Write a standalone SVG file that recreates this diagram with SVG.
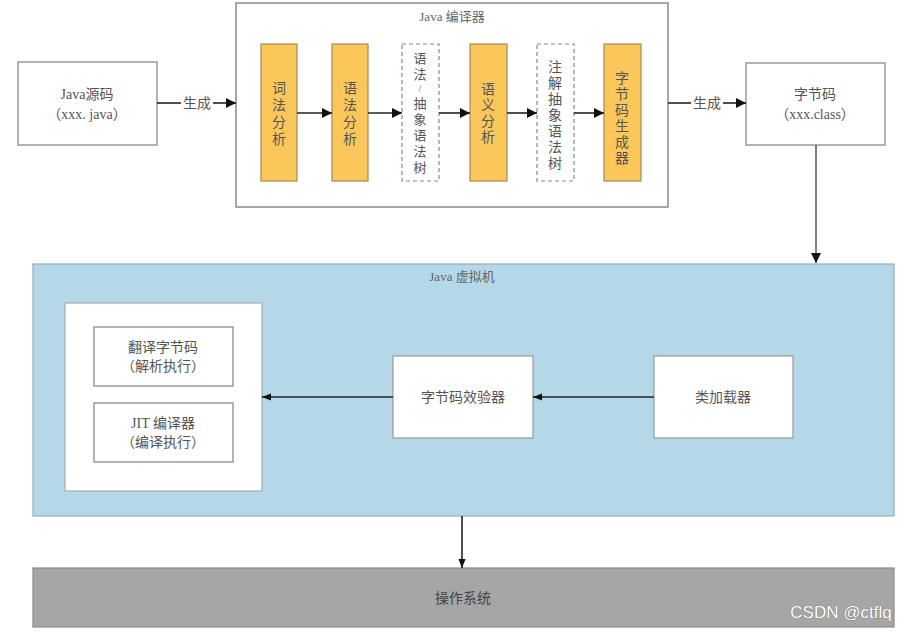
<svg xmlns="http://www.w3.org/2000/svg" width="912" height="632" viewBox="0 0 912 632">
<defs>
<marker id="ah" viewBox="0 0 10 10" refX="10" refY="5" markerWidth="10" markerHeight="10" markerUnits="userSpaceOnUse" orient="auto">
<path d="M0,0 L10,5 L0,10 Z" fill="#111"/>
</marker>
<marker id="ahs" viewBox="0 0 10 10" refX="10" refY="5" markerWidth="9" markerHeight="9" markerUnits="userSpaceOnUse" orient="auto">
<path d="M0,1 L10,5 L0,9 Z" fill="#111"/>
</marker>
</defs>
<style>
text{font-family:"Liberation Serif","Noto Sans CJK SC",serif;fill:#555;font-size:14px;text-anchor:middle;}
.box{fill:#fff;stroke:#9a9a9a;stroke-width:1.5;}
.org{fill:#fbc75a;stroke:#a58a52;stroke-width:1.2;}
.dash{fill:#fff;stroke:#888;stroke-width:1.2;stroke-dasharray:4 3;}
.ln{stroke:#222;stroke-width:1.6;fill:none;}
.lng{stroke:#555;stroke-width:1.5;fill:none;}
.title{font-size:13px;fill:#666;}
.sm{font-size:13px;}
</style>
<rect width="912" height="632" fill="#fff"/>

<g id="java-compiler">
<rect x="236" y="3" width="432" height="204" fill="#fff" stroke="#8a8a8a" stroke-width="1.5"/>
<text class="title" x="452" y="21">Java 编译器</text>
</g>

<g id="java-source">
<rect class="box" x="18" y="62" width="139" height="83"/>
<text x="87" y="99">Java源码</text>
<text x="87" y="119">（xxx. java）</text>
</g>

<g id="lexical">
<rect class="org" x="261" y="44" width="36" height="137"/>
<text x="279"><tspan x="279" y="93">词</tspan><tspan x="279" y="110">法</tspan><tspan x="279" y="127">分</tspan><tspan x="279" y="144">析</tspan></text>
</g>
<g id="syntax">
<rect class="org" x="332" y="44" width="36" height="137"/>
<text x="350"><tspan x="350" y="93">语</tspan><tspan x="350" y="110">法</tspan><tspan x="350" y="127">分</tspan><tspan x="350" y="144">析</tspan></text>
</g>
<g id="ast">
<rect class="dash" x="402" y="44" width="37" height="137"/>
<text class="sm" x="420"><tspan x="420" y="63">语</tspan><tspan x="420" y="79">法</tspan><tspan x="420" y="92" style="font-size:10px">/</tspan><tspan x="420" y="108">抽</tspan><tspan x="420" y="124">象</tspan><tspan x="420" y="140">语</tspan><tspan x="420" y="156">法</tspan><tspan x="420" y="172">树</tspan></text>
</g>
<g id="semantic">
<rect class="org" x="470" y="44" width="37" height="137"/>
<text x="488"><tspan x="488" y="94">语</tspan><tspan x="488" y="110">义</tspan><tspan x="488" y="126">分</tspan><tspan x="488" y="142">析</tspan></text>
</g>
<g id="annotated-ast">
<rect class="dash" x="537" y="44" width="37" height="137"/>
<text x="555"><tspan x="555" y="72">注</tspan><tspan x="555" y="88">解</tspan><tspan x="555" y="104">抽</tspan><tspan x="555" y="120">象</tspan><tspan x="555" y="136">语</tspan><tspan x="555" y="152">法</tspan><tspan x="555" y="168">树</tspan></text>
</g>
<g id="bytecode-generator">
<rect class="org" x="604" y="44" width="37" height="137"/>
<text x="622"><tspan x="622" y="83">字</tspan><tspan x="622" y="99">节</tspan><tspan x="622" y="115">码</tspan><tspan x="622" y="131">生</tspan><tspan x="622" y="147">成</tspan><tspan x="622" y="163">器</tspan></text>
</g>

<g id="bytecode">
<rect class="box" x="746" y="63" width="139" height="82"/>
<text x="815" y="99">字节码</text>
<text x="815" y="119">（xxx.class）</text>
</g>

<g id="jvm">
<rect x="33" y="264" width="861" height="252" fill="#b4d8e8" stroke="#8fb0c0" stroke-width="1.2"/>
<text class="title" x="462" y="281">Java 虚拟机</text>
</g>

<g id="execution-engine">
<rect x="65" y="303" width="197" height="188" fill="#fff" stroke="#aaa" stroke-width="1.2"/>
</g>
<g id="interpreter">
<rect class="box" x="94" y="327" width="139" height="59"/>
<text x="163" y="352">翻译字节码</text>
<text x="163" y="371">（解析执行）</text>
</g>
<g id="jit">
<rect class="box" x="94" y="403" width="139" height="59"/>
<text x="163" y="428">JIT 编译器</text>
<text x="163" y="447">（编译执行）</text>
</g>

<g id="verifier">
<rect x="393" y="356" width="140" height="82" fill="#fff" stroke="#999" stroke-width="1.2"/>
<text x="463" y="402">字节码效验器</text>
</g>
<g id="classloader">
<rect x="654" y="356" width="139" height="82" fill="#fff" stroke="#999" stroke-width="1.2"/>
<text x="723" y="402">类加载器</text>
</g>

<g id="os">
<rect x="33" y="568" width="861" height="59" fill="#a6a6a6" stroke="#8a8a8a" stroke-width="1.2"/>
<text x="463" y="603" style="fill:#444">操作系统</text>
</g>

<g id="connectors">
<line class="ln" x1="157" y1="103" x2="181" y2="103"/>
<text x="197" y="108">生成</text>
<line class="ln" x1="213" y1="103" x2="236" y2="103" marker-end="url(#ah)"/>
<line class="ln" x1="297" y1="113" x2="332" y2="113" marker-end="url(#ah)"/>
<line class="ln" x1="368" y1="113" x2="402" y2="113" marker-end="url(#ah)"/>
<line class="ln" x1="439" y1="113" x2="470" y2="113" marker-end="url(#ah)"/>
<line class="ln" x1="507" y1="113" x2="537" y2="113" marker-end="url(#ah)"/>
<line class="ln" x1="574" y1="113" x2="604" y2="113" marker-end="url(#ah)"/>
<line class="ln" x1="668" y1="103" x2="691" y2="103"/>
<text x="707" y="108">生成</text>
<line class="ln" x1="723" y1="103" x2="746" y2="103" marker-end="url(#ah)"/>
<line class="lng" x1="816" y1="145" x2="816" y2="263" marker-end="url(#ah)"/>
<line class="ln" x1="654" y1="397" x2="533" y2="397" marker-end="url(#ahs)"/>
<line class="ln" x1="393" y1="397" x2="262" y2="397" marker-end="url(#ahs)"/>
<line class="ln" x1="462" y1="516" x2="462" y2="568" marker-end="url(#ahs)"/>
</g>

<text x="841" y="618" style="font-family:'Liberation Sans Narrow','Liberation Sans',sans-serif;font-size:17px;fill:#fff;stroke:#666;stroke-width:0.6;paint-order:stroke">CSDN @ctflq</text>
</svg>
